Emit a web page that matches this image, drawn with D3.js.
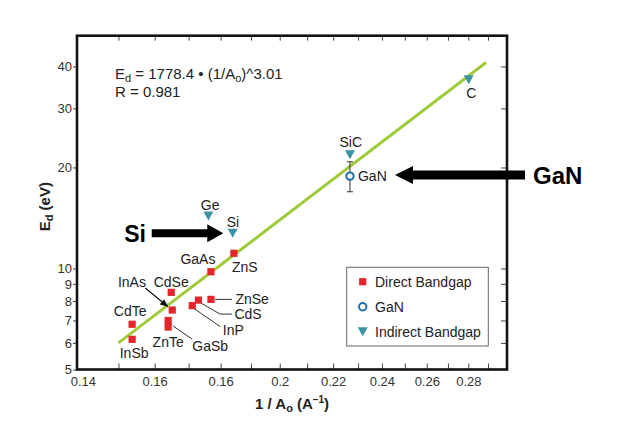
<!DOCTYPE html>
<html><head><meta charset="utf-8">
<script src="https://cdn.jsdelivr.net/npm/d3@7"></script>
<style>
body{margin:0;background:#fff;}
svg{display:block;font-family:"Liberation Sans",Arial,Helvetica,sans-serif;}
</style>
</head><body>
<svg id="chart" width="640" height="421"></svg>
<script>
// ---- data ----
const directNames = ["ZnS","GaAs","CdSe","ZnSe","CdS","InP","InAs","CdTe","ZnTe","GaSb","InSb"];
const directX     = [0.1843,0.1769,0.1648,0.1769,0.1730,0.1711,0.1651,0.1537,0.1639,0.1639,0.1537];
const directY     = [11.10,9.78,8.49,8.09,8.05,7.75,7.52,6.82,7.00,6.69,6.15];
const indirectNames = ["Ge","Si","SiC","C"];
const indirectX     = [0.1761,0.1839,0.2267,0.2802];
const indirectY     = [14.33,12.73,21.82,36.50];
const ganNames = ["GaN"];
const ganX = [0.2267];
const ganY = [18.85];
const ganErrLow  = [16.93];
const ganErrHigh = [20.80];
const fitX = [0.150, 0.289];
const fitY = [6.0, 41.1];
const xTickValues = [0.15,0.16,0.17,0.18,0.19,0.20,0.21,0.22,0.23,0.24,0.25,0.26,0.27,0.28,0.29];
const xLabelValues = [0.14,0.16,0.18,0.20,0.22,0.24,0.26,0.28];
const xLabelTexts  = ["0.14","0.16","0.16","0.2","0.22","0.24","0.26","0.28"];
const yTickValues = [5,6,7,8,9,10,20,30,40];
const yTickLabels = ["5","6","7","8","9","10","20","30","40"];
const legendNames = ["Direct Bandgap","GaN","Indirect Bandgap"];

// ---- styling / annotation placement ----
const RED = "#e3262b", TEAL = "#3d93a3", BLUE = "#1f6fa8", GREEN = "#9fca3a", TXT = "#222";
const LFS = 14;
const labelOpts = {
  ZnS:[-2,14,"start"], GaAs:[-13,-12.5,"middle"], CdSe:[0,-10,"middle"], ZnSe:[24.5,0,"start"],
  CdS:[36,14,"start"], InP:[30.5,24.3,"start"], InAs:[-40.3,-28.3,"middle"], CdTe:[-2,-13.3,"middle"],
  ZnTe:[0,21.2,"middle"], GaSb:[24.2,19,"start"], InSb:[2,14,"middle"],
  Ge:[1.7,-11.5,"middle"], Si:[0.3,-11.6,"middle"], SiC:[0.8,-13,"middle"], C:[2.7,13,"middle"],
  GaN:[8,0,"start"]
};
const leaders = {
  ZnSe:[[4,0],[21,0]],
  CdS:[[2,2.7],[21.7,14],[33.4,14]],
  InP:[[1.3,2.6],[28,21]],
  GaSb:[[5,-1],[24,12]]
};

const svg = d3.select("#chart");
svg.append("rect").attr("width",640).attr("height",421).attr("fill","#fff");

const x = d3.scaleLog().domain([0.1393, 0.30]).range([77, 507]);
const y = d3.scaleLog().domain([5, 49.4]).range([369.5, 35.7]);

// axes ticks
const tickStyle = g => { g.select(".domain").remove(); g.selectAll("line").attr("stroke","#444"); };
svg.append("g").attr("transform","translate(0,369.5)")
  .call(d3.axisBottom(x).tickValues(xTickValues).tickSize(-6).tickFormat(""))
  .call(tickStyle);
svg.append("g").attr("transform","translate(0,35.7)")
  .call(d3.axisTop(x).tickValues(xTickValues).tickSize(-5).tickFormat(""))
  .call(tickStyle);
const xl = svg.append("g").attr("transform","translate(0,369.5)")
  .call(d3.axisBottom(x).tickValues(xLabelValues).tickSize(0).tickPadding(7)
        .tickFormat((d,i)=>xLabelTexts[i]));
xl.select(".domain").remove();
xl.selectAll("text").attr("font-size",13).attr("fill","#333").attr("font-family","Liberation Sans, Arial, sans-serif")
  .attr("dx",(d,i)=> i===0 ? 3 : 0);

const yl = svg.append("g").attr("transform","translate(77,0)")
  .call(d3.axisLeft(y).tickValues(yTickValues).tickSize(4).tickPadding(1)
        .tickFormat((d,i)=>yTickLabels[i]));
yl.select(".domain").remove();
yl.selectAll("line").attr("stroke","#444");
yl.selectAll("text").attr("font-size",13).attr("fill","#333").attr("font-family","Liberation Sans, Arial, sans-serif");
svg.append("g").attr("transform","translate(507,0)")
  .call(d3.axisRight(y).tickValues(yTickValues.filter(v=>v>5)).tickSize(-6).tickFormat(""))
  .call(tickStyle);

// frame
svg.append("rect").attr("x",77).attr("y",35.7).attr("width",430).attr("height",333.8)
  .attr("fill","none").attr("stroke","#111").attr("stroke-width",2.6);

// fit line
const fitData = fitX.map((v,i)=>({x:v,y:fitY[i]}));
svg.append("path").datum(fitData)
  .attr("d", d3.line().x(d=>x(d.x)).y(d=>y(d.y)))
  .attr("stroke",GREEN).attr("stroke-width",3).attr("fill","none");

// equation text
const eq = svg.append("text").attr("x",115).attr("y",78.5).attr("font-size",15).attr("fill",TXT);
eq.append("tspan").text("E");
eq.append("tspan").attr("font-size",11).attr("dy",3).text("d");
eq.append("tspan").attr("dy",-3).text(" = 1778.4 \u2022 (1/A");
eq.append("tspan").attr("font-size",11).attr("dy",3).text("o");
eq.append("tspan").attr("dy",-3).text(")^3.01");
svg.append("text").attr("x",115).attr("y",97).attr("font-size",15).attr("fill",TXT).text("R = 0.981");

// leaders
const direct = directNames.map((n,i)=>({name:n,x:directX[i],y:directY[i]}));
const indirect = indirectNames.map((n,i)=>({name:n,x:indirectX[i],y:indirectY[i]}));
const gan = ganNames.map((n,i)=>({name:n,x:ganX[i],y:ganY[i],lo:ganErrLow[i],hi:ganErrHigh[i]}));

direct.forEach(d=>{
  if(leaders[d.name]){
    const px=x(d.x), py=y(d.y);
    svg.append("path").attr("d", d3.line()(leaders[d.name].map(p=>[px+p[0],py+p[1]])))
      .attr("stroke","#333").attr("stroke-width",1).attr("fill","none");
  }
});
// InAs arrow
svg.append("defs").append("marker").attr("id","ah").attr("viewBox","0 0 10 10")
  .attr("refX",9).attr("refY",5).attr("markerWidth",7).attr("markerHeight",7).attr("orient","auto")
  .append("path").attr("d","M0,1 L10,5 L0,9 Z").attr("fill","#111");
{
  const d = direct.find(v=>v.name==="InAs");
  const px=x(d.x), py=y(d.y);
  svg.append("line").attr("x1",px-27).attr("y1",py-22).attr("x2",px-4.5).attr("y2",py-3.5)
    .attr("stroke","#111").attr("stroke-width",1.2).attr("marker-end","url(#ah)");
}

// points
svg.append("g").selectAll("rect").data(direct).join("rect")
  .attr("x",d=>x(d.x)-3.6).attr("y",d=>y(d.y)-3.6).attr("width",7.2).attr("height",7.2).attr("fill",RED);
const tri = "M-5,-4.5L5,-4.5L0,4.5Z";
svg.append("g").selectAll("path").data(indirect).join("path")
  .attr("d",tri).attr("transform",d=>`translate(${x(d.x)},${y(d.y)})`).attr("fill",TEAL);
gan.forEach(d=>{
  const px=x(d.x);
  svg.append("line").attr("x1",px).attr("x2",px).attr("y1",y(d.hi)).attr("y2",y(d.lo)).attr("stroke","#333").attr("stroke-width",1);
  [d.hi,d.lo].forEach(v=>svg.append("line").attr("x1",px-3).attr("x2",px+3).attr("y1",y(v)).attr("y2",y(v)).attr("stroke","#333").attr("stroke-width",1));
  svg.append("circle").attr("cx",px).attr("cy",y(d.y)).attr("r",3.7).attr("fill","#fff").attr("stroke",BLUE).attr("stroke-width",2);
});

// point labels
[...direct,...indirect,...gan].forEach(d=>{
  const o = labelOpts[d.name];
  svg.append("text").attr("x",x(d.x)+o[0]).attr("y",y(d.y)+o[1]).attr("dy","0.36em")
    .attr("text-anchor",o[2]).attr("font-size",LFS).attr("fill",TXT).text(d.name);
});

// big arrows
function bigArrow(tipX, tipY, tailX, shaftH, headL, headH){
  const dir = tailX < tipX ? 1 : -1;
  const hb = tipX - dir*headL;
  const p = [[tailX,tipY-shaftH/2],[hb,tipY-shaftH/2],[hb,tipY-headH/2],[tipX,tipY],
             [hb,tipY+headH/2],[hb,tipY+shaftH/2],[tailX,tipY+shaftH/2]];
  svg.append("path").attr("d",d3.line()(p)+"Z").attr("fill","#000");
}
{
  const si = indirect.find(v=>v.name==="Si");
  const tx = x(si.x)-9.4, ty = y(si.y);
  bigArrow(tx, ty, 151.7, 8, 16, 18);
  svg.append("text").attr("x",135).attr("y",ty).attr("dy","0.36em").attr("text-anchor","middle")
    .attr("font-size",23).attr("font-weight","bold").attr("fill","#000").text("Si");
  const g = gan[0];
  const gx = x(g.x)+45, gy = y(g.y)-1;
  bigArrow(gx, gy, 525, 9, 18, 18);
  svg.append("text").attr("x",533).attr("y",gy).attr("dy","0.36em").attr("text-anchor","start")
    .attr("font-size",24).attr("font-weight","bold").attr("fill","#000").text("GaN");
}

// axis titles
const xt = svg.append("text").attr("x",292).attr("y",408.5).attr("text-anchor","middle")
  .attr("font-size",15).attr("font-weight","bold").attr("fill",TXT);
xt.append("tspan").text("1 / A");
xt.append("tspan").attr("font-size",11).attr("dy",3).text("o");
xt.append("tspan").attr("dy",-3).text(" (A");
xt.append("tspan").attr("font-size",10).attr("dy",-6).text("\u20131");
xt.append("tspan").attr("dy",6).text(")");
const yt = svg.append("text").attr("transform","translate(50,206.7) rotate(-90)").attr("text-anchor","middle")
  .attr("font-size",15).attr("font-weight","bold").attr("fill",TXT);
yt.append("tspan").text("E");
yt.append("tspan").attr("font-size",11).attr("dy",3).text("d");
yt.append("tspan").attr("dy",-3).text(" (eV)");

// legend
const lg = svg.append("g");
lg.append("rect").attr("x",346.7).attr("y",267.3).attr("width",141.6).attr("height",78.7)
  .attr("fill","#fff").attr("stroke","#666").attr("stroke-width",1);
const ly = [281.7,306.7,331.7];
lg.append("rect").attr("x",362.7-3.6).attr("y",ly[0]-3.6).attr("width",7.2).attr("height",7.2).attr("fill",RED);
lg.append("circle").attr("cx",362.7).attr("cy",ly[1]).attr("r",3.7).attr("fill","#fff").attr("stroke",BLUE).attr("stroke-width",2);
lg.append("path").attr("d",tri).attr("transform",`translate(362.7,${ly[2]})`).attr("fill",TEAL);
legendNames.forEach((n,i)=>{
  lg.append("text").attr("x",375).attr("y",ly[i]).attr("dy","0.36em").attr("font-size",LFS).attr("fill",TXT).text(n);
});
</script>
</body></html>
